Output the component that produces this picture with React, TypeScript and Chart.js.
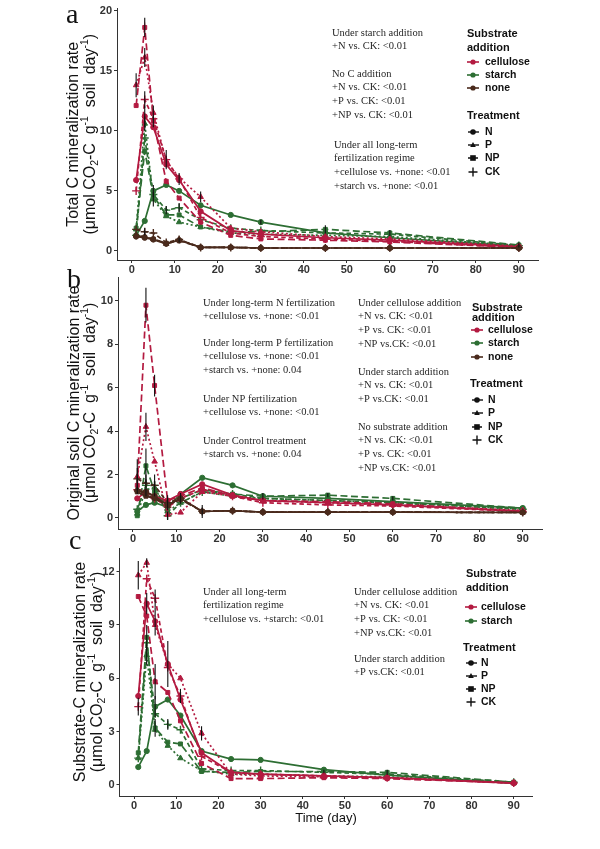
import React, { useEffect, useRef } from 'react';
import { Chart, registerables } from 'chart.js';
Chart.register(...registerables);

// ---------------- DATA ----------------
const DAYS = [1, 3, 5, 8, 11, 16, 23, 30, 45, 60, 90];
const X_TICKS = [0, 10, 20, 30, 40, 50, 60, 70, 80, 90];
const A_Y_TICKS = [0, 5, 10, 15, 20];
const B_Y_TICKS = [0, 2, 4, 6, 8, 10];
const C_Y_TICKS = [0, 3, 6, 9, 12];

// Panel a: Total C mineralization rate
const A_CEL_N = [5.9, 11.2, 10.3, 7.2, 5.9, 3.3, 1.7, 1.4, 1.1, 0.9, 0.35];
const A_CEL_P = [13.8, 16.1, 11.5, 7.5, 6.1, 4.5, 1.9, 1.6, 1.2, 1.0, 0.4];
const A_CEL_NP = [12.1, 18.6, 10.8, 5.8, 4.4, 2.4, 1.3, 1.0, 0.9, 0.75, 0.3];
const A_CEL_CK = [5.0, 12.6, 11.0, 7.6, 6.0, 2.8, 1.5, 1.2, 1.0, 0.8, 0.3];
const A_STA_N = [1.3, 2.5, 5.0, 5.5, 5.0, 3.8, 3.0, 2.4, 1.5, 1.1, 0.4];
const A_STA_P = [1.8, 10.6, 4.3, 2.9, 2.4, 2.0, 1.5, 1.4, 1.3, 1.2, 0.45];
const A_STA_NP = [1.9, 8.3, 4.6, 3.0, 3.0, 2.0, 1.6, 1.6, 1.8, 1.5, 0.5];
const A_STA_CK = [1.3, 9.4, 4.7, 3.4, 3.6, 2.6, 1.9, 1.7, 1.5, 1.4, 0.45];
const A_NON_N = [1.2, 1.1, 0.95, 0.6, 0.9, 0.3, 0.3, 0.25, 0.25, 0.25, 0.25];
const A_NON_P = [1.3, 1.2, 1.0, 0.6, 0.95, 0.3, 0.3, 0.25, 0.25, 0.25, 0.25];
const A_NON_NP = [1.25, 1.15, 1.0, 0.65, 0.85, 0.3, 0.3, 0.25, 0.25, 0.25, 0.25];
const A_NON_CK = [1.8, 1.6, 1.5, 0.7, 0.95, 0.3, 0.3, 0.25, 0.25, 0.25, 0.25];

// Panel b: Original soil C mineralization rate
const B_CEL_N = [0.9, 1.2, 1.0, 0.8, 1.1, 1.55, 1.05, 0.8, 0.7, 0.6, 0.3];
const B_CEL_P = [1.9, 4.2, 2.6, 0.15, 0.25, 1.2, 1.0, 0.8, 0.7, 0.6, 0.35];
const B_CEL_NP = [1.5, 9.8, 6.1, 0.8, 1.0, 1.4, 1.0, 0.8, 0.75, 0.65, 0.3];
const B_CEL_CK = [1.3, 1.1, 0.9, 0.5, 0.9, 1.3, 1.0, 0.7, 0.6, 0.55, 0.3];
const B_STA_N = [0.3, 0.6, 0.7, 0.5, 1.1, 1.85, 1.5, 1.0, 0.9, 0.75, 0.45];
const B_STA_P = [0.2, 1.3, 1.4, 0.3, 0.7, 1.2, 1.0, 0.9, 0.8, 0.7, 0.4];
const B_STA_NP = [0.1, 2.4, 1.2, 0.6, 0.9, 1.3, 1.1, 1.0, 1.05, 0.9, 0.45];
const B_STA_CK = [0.4, 1.5, 1.5, 0.1, 0.7, 1.2, 1.1, 0.9, 0.8, 0.7, 0.4];
const B_NON_N = [1.25, 1.2, 1.0, 0.6, 0.9, 0.3, 0.33, 0.27, 0.27, 0.27, 0.25];
const B_NON_P = [1.3, 1.1, 0.9, 0.55, 0.9, 0.3, 0.33, 0.27, 0.27, 0.27, 0.25];
const B_NON_NP = [1.2, 1.0, 0.9, 0.6, 0.85, 0.3, 0.33, 0.27, 0.27, 0.27, 0.25];
const B_NON_CK = [1.8, 1.6, 1.5, 0.7, 0.9, 0.3, 0.33, 0.27, 0.27, 0.27, 0.25];

// Panel c: Substrate-C mineralization rate
const C_CEL_N = [5.0, 10.2, 9.2, 6.8, 4.8, 1.8, 0.7, 0.6, 0.5, 0.4, 0.1];
const C_CEL_P = [11.8, 12.5, 9.0, 6.8, 6.0, 2.9, 0.6, 0.5, 0.45, 0.4, 0.1];
const C_CEL_NP = [10.6, 9.5, 5.8, 5.2, 3.6, 1.2, 0.35, 0.35, 0.4, 0.35, 0.1];
const C_CEL_CK = [4.4, 11.6, 10.5, 6.6, 5.0, 1.6, 0.7, 0.6, 0.5, 0.4, 0.1];
const C_STA_N = [1.0, 1.9, 4.4, 4.8, 3.9, 1.9, 1.45, 1.4, 0.85, 0.55, 0.1];
const C_STA_P = [1.5, 7.3, 3.1, 2.2, 1.5, 0.8, 0.6, 0.6, 0.5, 0.45, 0.1];
const C_STA_NP = [1.8, 8.3, 3.2, 2.4, 2.3, 0.75, 0.7, 0.75, 0.75, 0.7, 0.15];
const C_STA_CK = [1.5, 8.0, 4.0, 3.4, 3.1, 0.9, 0.8, 0.8, 0.7, 0.6, 0.15];

// Error bars: [substrate, treatment, day index, half-length]
const A_ERR: [string, string, number, number][] = [
  ['cellulose', 'P', 0, 1.0], ['cellulose', 'NP', 1, 0.8], ['cellulose', 'P', 1, 0.8],
  ['cellulose', 'CK', 1, 0.7], ['cellulose', 'N', 1, 0.9], ['cellulose', 'NP', 2, 0.5],
  ['cellulose', 'P', 2, 0.6], ['cellulose', 'CK', 3, 0.8], ['cellulose', 'CK', 4, 0.5],
  ['cellulose', 'P', 5, 0.45], ['starch', 'P', 1, 0.6], ['starch', 'N', 2, 0.5],
  ['starch', 'P', 2, 0.6], ['starch', 'CK', 3, 0.35], ['starch', 'CK', 4, 0.4],
  ['starch', 'N', 7, 0.2], ['starch', 'NP', 8, 0.35], ['starch', 'NP', 9, 0.25],
  ['starch', 'NP', 10, 0.2], ['none', 'N', 4, 0.2], ['none', 'CK', 1, 0.3],
];
const B_ERR: [string, string, number, number][] = [
  ['cellulose', 'NP', 1, 0.8], ['cellulose', 'NP', 2, 0.5], ['cellulose', 'P', 1, 0.65],
  ['cellulose', 'P', 0, 0.8], ['starch', 'NP', 1, 0.8], ['starch', 'CK', 1, 0.5],
  ['starch', 'CK', 2, 0.5], ['none', 'CK', 0, 0.5], ['none', 'CK', 3, 0.35],
  ['starch', 'CK', 3, 0.2], ['cellulose', 'CK', 4, 0.25], ['none', 'CK', 5, 0.3],
  ['starch', 'N', 7, 0.15], ['starch', 'NP', 8, 0.1], ['starch', 'NP', 9, 0.1],
];
const C_ERR: [string, string, number, number][] = [
  ['cellulose', 'P', 0, 0.8], ['cellulose', 'CK', 0, 0.5], ['cellulose', 'P', 1, 0.25],
  ['cellulose', 'N', 1, 0.6], ['cellulose', 'CK', 2, 0.5], ['cellulose', 'N', 2, 0.8],
  ['cellulose', 'NP', 2, 1.0], ['starch', 'N', 2, 0.6], ['starch', 'NP', 2, 0.5],
  ['cellulose', 'N', 3, 1.3], ['cellulose', 'CK', 4, 0.4], ['cellulose', 'P', 5, 0.4],
  ['starch', 'NP', 1, 0.7], ['starch', 'P', 1, 0.6], ['starch', 'CK', 3, 0.3],
  ['starch', 'NP', 8, 0.1], ['starch', 'NP', 9, 0.15],
];

const TREATMENTS = ['N', 'P', 'NP', 'CK'];
const A_SUBSTRATES = ['cellulose', 'starch', 'none'];
const C_SUBSTRATES = ['cellulose', 'starch'];

const A_NOTES = [
  ['Under starch addition', '+N vs. CK: <0.01'],
  ['No C addition', '+N vs. CK: <0.01', '+P vs. CK: <0.01', '+NP vs. CK: <0.01'],
  ['Under all long-term', 'fertilization regime', '+cellulose vs. +none: <0.01', '+starch vs. +none: <0.01'],
];
const B_NOTES = [
  ['Under long-term N fertilization', '+cellulose vs. +none: <0.01'],
  ['Under long-term P fertilization', '+cellulose vs. +none: <0.01', '+starch vs. +none: 0.04'],
  ['Under NP fertilization', '+cellulose vs. +none: <0.01'],
  ['Under Control treatment', '+starch vs. +none: 0.04'],
  ['Under cellulose addition', '+N vs. CK: <0.01', '+P vs. CK: <0.01', '+NP vs.CK: <0.01'],
  ['Under starch addition', '+N vs. CK: <0.01', '+P vs.CK: <0.01'],
  ['No substrate addition', '+N vs. CK: <0.01', '+P vs. CK: <0.01', '+NP vs.CK: <0.01'],
];
const C_NOTES = [
  ['Under all long-term', 'fertilization regime', '+cellulose vs. +starch: <0.01'],
  ['Under cellulose addition', '+N vs. CK: <0.01', '+P vs. CK: <0.01', '+NP vs.CK: <0.01'],
  ['Under starch addition', '+P vs.CK: <0.01'],
];

const A_TITLE = 'Total C mineralization rate';
const B_TITLE = 'Original soil C mineralization rate';
const C_TITLE = 'Substrate-C mineralization rate';
const X_TITLE = 'Time (day)';

// ---------------- STYLE / LAYOUT ----------------
const COLORS: Record<string, string> = { cellulose: '#B31A40', starch: '#2D6E33', none: '#4A2A1C' };
const DASH: Record<string, number[]> = { N: [], P: [2, 2.5], NP: [7, 3.5], CK: [4.5, 3] };
const SHAPE: Record<string, string> = { N: 'circle', P: 'triangle', NP: 'rect', CK: 'cross' };
const RADIUS: Record<string, number> = { N: 2.6, P: 3.2, NP: 2.8, CK: 4 };
const YW = 40;
const XH = 16;
const SANS = '"Liberation Sans", Arial, sans-serif';
const SERIF = '"Liberation Serif", "Times New Roman", serif';
const LINE_H = 13.7;

type Series = { sub: string; tr: string; values: number[] };
type Panel = {
  id: string; letter: string; letterPos: [number, number];
  left: number; right: number; top: number; bottom: number;
  xMin: number; xMax: number; yMin: number; yMax: number; yTicks: number[];
  series: Series[]; errors: [string, string, number, number][];
  title: string; titleX: [number, number];
  notes: string[][]; notePos: [number, number][];
  substrates: string[];
  legend: { tx: number; ty: [number, number]; keyX: number; labelX: number; subY: number[]; trX: number; trY: number; trYs: number[] };
  xTitle: boolean;
};

function ser(sub: string, rows: number[][]): Series[] {
  return TREATMENTS.map((tr, i) => ({ sub, tr, values: rows[i] }));
}

const PANELS: Panel[] = [
  {
    id: 'a', letter: 'a', letterPos: [66, 23],
    left: 117, right: 538, top: 8, bottom: 260,
    xMin: -3.45, xMax: 94.45, yMin: -0.75, yMax: 20.17, yTicks: A_Y_TICKS,
    series: [
      ...ser('none', [A_NON_N, A_NON_P, A_NON_NP, A_NON_CK]),
      ...ser('cellulose', [A_CEL_N, A_CEL_P, A_CEL_NP, A_CEL_CK]),
      ...ser('starch', [A_STA_N, A_STA_P, A_STA_NP, A_STA_CK]),
    ],
    errors: A_ERR, title: A_TITLE, titleX: [74, 91],
    notes: A_NOTES, notePos: [[332, 33], [332, 74], [334, 145]],
    substrates: A_SUBSTRATES,
    legend: { tx: 467, ty: [34, 48], keyX: 467, labelX: 485, subY: [62, 75, 88], trX: 467, trY: 116, trYs: [132, 145, 158, 172] },
    xTitle: false,
  },
  {
    id: 'b', letter: 'b', letterPos: [67, 288],
    left: 118, right: 542, top: 277, bottom: 529,
    xMin: -3.45, xMax: 94.45, yMin: -0.51, yMax: 11.1, yTicks: B_Y_TICKS,
    series: [
      ...ser('none', [B_NON_N, B_NON_P, B_NON_NP, B_NON_CK]),
      ...ser('cellulose', [B_CEL_N, B_CEL_P, B_CEL_NP, B_CEL_CK]),
      ...ser('starch', [B_STA_N, B_STA_P, B_STA_NP, B_STA_CK]),
    ],
    errors: B_ERR, title: B_TITLE, titleX: [75, 91],
    notes: B_NOTES, notePos: [[203, 303], [203, 343], [203, 399], [203, 441], [358, 303], [358, 372], [358, 427]],
    substrates: A_SUBSTRATES,
    legend: { tx: 472, ty: [308, 318], keyX: 471, labelX: 488, subY: [330, 343, 357], trX: 470, trY: 384, trYs: [400, 413, 427, 440] },
    xTitle: false,
  },
  {
    id: 'c', letter: 'c', letterPos: [69, 549],
    left: 119.5, right: 532.5, top: 548, bottom: 796,
    xMin: -3.45, xMax: 94.45, yMin: -0.63, yMax: 13.33, yTicks: C_Y_TICKS,
    series: [
      ...ser('cellulose', [C_CEL_N, C_CEL_P, C_CEL_NP, C_CEL_CK]),
      ...ser('starch', [C_STA_N, C_STA_P, C_STA_NP, C_STA_CK]),
    ],
    errors: C_ERR, title: C_TITLE, titleX: [81, 98],
    notes: C_NOTES, notePos: [[203, 592], [354, 592], [354, 659]],
    substrates: C_SUBSTRATES,
    legend: { tx: 466, ty: [574, 588], keyX: 465, labelX: 481, subY: [607, 621], trX: 463, trY: 648, trYs: [663, 676, 689, 702] },
    xTitle: true,
  },
];

// ---------------- DRAW HELPERS ----------------
function drawMarker(ctx: CanvasRenderingContext2D, shape: string, x: number, y: number, r: number, color: string) {
  ctx.save();
  ctx.fillStyle = color;
  ctx.strokeStyle = color;
  ctx.setLineDash([]);
  ctx.beginPath();
  if (shape === 'circle') {
    ctx.arc(x, y, r, 0, Math.PI * 2);
    ctx.fill();
  } else if (shape === 'triangle') {
    ctx.moveTo(x, y - r * 1.1);
    ctx.lineTo(x + r, y + r * 0.7);
    ctx.lineTo(x - r, y + r * 0.7);
    ctx.closePath();
    ctx.fill();
  } else if (shape === 'rect') {
    ctx.fillRect(x - r, y - r, 2 * r, 2 * r);
  } else {
    ctx.lineWidth = 1.4;
    ctx.moveTo(x - r, y); ctx.lineTo(x + r, y);
    ctx.moveTo(x, y - r); ctx.lineTo(x, y + r);
    ctx.stroke();
  }
  ctx.restore();
}

type Seg = { t: string; sup?: boolean; sub?: boolean };
const UNIT_SEGS: Seg[] = [
  { t: '(μmol CO' }, { t: '2', sub: true }, { t: '-C  g' }, { t: '-1', sup: true },
  { t: '  soil  day' }, { t: '-1', sup: true }, { t: ')' },
];

function drawSegs(ctx: CanvasRenderingContext2D, segs: Seg[], size: number) {
  const fonts = segs.map(s => `${s.sup || s.sub ? size * 0.65 : size}px ${SANS}`);
  const widths = segs.map((s, i) => { ctx.font = fonts[i]; return ctx.measureText(s.t).width; });
  const total = widths.reduce((a, b) => a + b, 0);
  let x = -total / 2;
  segs.forEach((s, i) => {
    ctx.font = fonts[i];
    const dy = s.sup ? -size * 0.38 : s.sub ? size * 0.25 : 0;
    ctx.fillText(s.t, x, dy);
    x += widths[i];
  });
}

function makeDecoPlugin(p: Panel) {
  return {
    id: 'deco' + p.id,
    afterDatasetsDraw(chart: any) {
      const ctx: CanvasRenderingContext2D = chart.ctx;
      const xs = chart.scales.x;
      const ys = chart.scales.y;
      ctx.save();
      ctx.strokeStyle = '#111';
      ctx.lineWidth = 1.1;
      ctx.setLineDash([]);
      p.errors.forEach(([sub, tr, idx, e]) => {
        const s = p.series.find(q => q.sub === sub && q.tr === tr);
        if (!s) return;
        const v = s.values[idx];
        const px = xs.getPixelForValue(DAYS[idx]);
        ctx.beginPath();
        ctx.moveTo(px, ys.getPixelForValue(v - e));
        ctx.lineTo(px, ys.getPixelForValue(v + e));
        ctx.stroke();
      });
      ctx.restore();
    },
    afterDraw(chart: any) {
      const ctx: CanvasRenderingContext2D = chart.ctx;
      ctx.save();
      ctx.fillStyle = '#111';
      // panel letter
      ctx.textAlign = 'left';
      ctx.textBaseline = 'alphabetic';
      ctx.font = `28px ${SERIF}`;
      ctx.fillText(p.letter, p.letterPos[0], p.letterPos[1]);
      ctx.textBaseline = 'middle';
      // y-axis title
      const cy = (chart.chartArea.top + chart.chartArea.bottom) / 2;
      ctx.save();
      ctx.translate(p.titleX[0], cy);
      ctx.rotate(-Math.PI / 2);
      ctx.textAlign = 'center';
      ctx.font = `16px ${SANS}`;
      ctx.fillText(p.title, 0, 0);
      ctx.restore();
      ctx.save();
      ctx.translate(p.titleX[1], cy);
      ctx.rotate(-Math.PI / 2);
      ctx.textAlign = 'left';
      drawSegs(ctx, UNIT_SEGS, 16);
      ctx.restore();
      // x title
      if (p.xTitle) {
        ctx.textAlign = 'center';
        ctx.font = `13px ${SANS}`;
        ctx.fillText(X_TITLE, (chart.chartArea.left + chart.chartArea.right) / 2, 818);
      }
      // notes
      ctx.textAlign = 'left';
      ctx.fillStyle = '#262626';
      ctx.font = `10.5px ${SERIF}`;
      p.notes.forEach((lines, i) => {
        const [nx, ny] = p.notePos[i];
        lines.forEach((ln, j) => ctx.fillText(ln, nx, ny + j * LINE_H));
      });
      // legend
      const L = p.legend;
      ctx.fillStyle = '#111';
      ctx.font = `bold 11px ${SANS}`;
      ctx.fillText('Substrate', L.tx, L.ty[0]);
      ctx.fillText('addition', L.tx, L.ty[1]);
      p.substrates.forEach((sub, i) => {
        const y = L.subY[i];
        ctx.save();
        ctx.strokeStyle = COLORS[sub];
        ctx.lineWidth = 1.6;
        ctx.beginPath();
        ctx.moveTo(L.keyX, y); ctx.lineTo(L.keyX + 12, y);
        ctx.stroke();
        ctx.restore();
        drawMarker(ctx, 'circle', L.keyX + 6, y, 2.6, COLORS[sub]);
        ctx.fillStyle = '#111';
        ctx.font = `bold 10.5px ${SANS}`;
        ctx.fillText(sub, L.labelX, y);
      });
      ctx.font = `bold 11px ${SANS}`;
      ctx.fillText('Treatment', L.trX, L.trY);
      TREATMENTS.forEach((tr, i) => {
        const y = L.trYs[i];
        ctx.save();
        ctx.strokeStyle = '#111';
        ctx.lineWidth = 1.4;
        ctx.setLineDash(tr === 'NP' ? [4, 2] : []);
        ctx.beginPath();
        ctx.moveTo(L.keyX + 1, y); ctx.lineTo(L.keyX + 12, y);
        if (tr !== 'CK') ctx.stroke();
        ctx.restore();
        drawMarker(ctx, SHAPE[tr], L.keyX + 6, y, tr === 'CK' ? 4.5 : 2.8, '#111');
        ctx.fillStyle = '#111';
        ctx.font = `bold 10.5px ${SANS}`;
        ctx.fillText(tr, L.labelX, y);
      });
      ctx.restore();
    },
  };
}

function makeConfig(p: Panel): any {
  const tickFont = { family: SANS, size: 11, weight: 'bold' as const };
  return {
    type: 'line',
    data: {
      datasets: p.series.map(s => ({
        label: `${s.sub} ${s.tr}`,
        data: s.values.map((v, i) => ({ x: DAYS[i], y: v })),
        borderColor: COLORS[s.sub],
        backgroundColor: COLORS[s.sub],
        pointBackgroundColor: COLORS[s.sub],
        pointBorderColor: COLORS[s.sub],
        pointBorderWidth: s.tr === 'CK' ? 1.4 : 1,
        pointStyle: SHAPE[s.tr],
        pointRadius: RADIUS[s.tr],
        borderWidth: 1.7,
        borderDash: DASH[s.tr],
        tension: 0,
        fill: false,
      })),
    },
    options: {
      animation: false,
      responsive: false,
      maintainAspectRatio: false,
      events: [],
      layout: { padding: { left: p.left - YW, right: 600 - p.right, top: p.top, bottom: 849 - p.bottom - XH } },
      plugins: { legend: { display: false }, tooltip: { enabled: false }, title: { display: false } },
      scales: {
        x: {
          type: 'linear', min: p.xMin, max: p.xMax,
          afterBuildTicks: (sc: any) => { sc.ticks = X_TICKS.map(v => ({ value: v })); },
          afterFit: (sc: any) => { sc.height = XH; },
          grid: { display: true, drawOnChartArea: false, drawTicks: true, tickLength: 3, color: '#333' },
          border: { display: true, color: '#333', width: 1 },
          ticks: { font: tickFont, color: '#333', padding: 0, maxRotation: 0, autoSkip: false },
        },
        y: {
          type: 'linear', min: p.yMin, max: p.yMax,
          afterBuildTicks: (sc: any) => { sc.ticks = p.yTicks.map(v => ({ value: v })); },
          afterFit: (sc: any) => { sc.width = YW; },
          grid: { display: true, drawOnChartArea: false, drawTicks: true, tickLength: 3, color: '#333' },
          border: { display: true, color: '#333', width: 1 },
          ticks: { font: tickFont, color: '#333', padding: 2, autoSkip: false },
        },
      },
    },
    plugins: [makeDecoPlugin(p)],
  };
}

function PanelChart({ panel }: { panel: Panel }) {
  const ref = useRef<HTMLCanvasElement>(null);
  useEffect(() => {
    const chart = new Chart(ref.current as HTMLCanvasElement, makeConfig(panel));
    return () => chart.destroy();
  }, [panel]);
  return (
    <canvas
      ref={ref}
      width={600}
      height={849}
      style={{ position: 'absolute', left: 0, top: 0, width: 600, height: 849 }}
    />
  );
}

export default function App() {
  return (
    <div style={{ position: 'absolute', left: 0, top: 0, width: 600, height: 849, background: '#fff', overflow: 'hidden' }}>
      {PANELS.map(p => <PanelChart key={p.id} panel={p} />)}
    </div>
  );
}
